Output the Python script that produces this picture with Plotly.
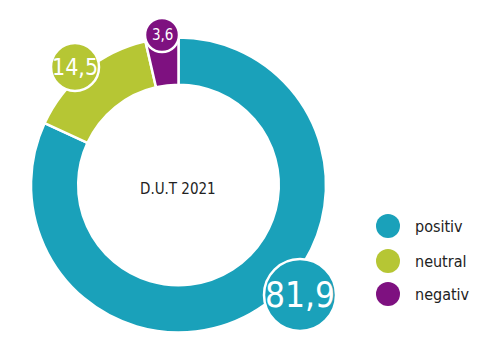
import plotly.graph_objects as go

W, H = 497, 361

# Data
categories = ["positiv", "neutral", "negativ"]
values = [81.9, 14.5, 3.6]
center_title = "D.U.T 2021"

# Style
colors = ["#1AA1BA", "#B6C634", "#7E1180"]
label_pos = [(300, 295), (75, 67), (162, 35)]   # pixel centres of value bubbles
label_r = [36, 24, 17]
label_font = [35, 23, 15]
legend_x = 388
legend_y = [226, 261, 294]
legend_r = 12
FONT = "DejaVu Sans Condensed, Liberation Sans Narrow, Open Sans, sans-serif"

fig = go.Figure()

fig.add_trace(go.Pie(
    values=values, labels=categories,
    marker=dict(colors=colors, line=dict(color="white", width=2.5)),
    hole=0.68, sort=False, direction="clockwise", rotation=0,
    textinfo="none", showlegend=False,
    domain=dict(x=[31 / W, 326 / W], y=[1 - 333 / H, 1 - 37 / H]),
))

# invisible helper trace so the pixel axes exist
fig.add_trace(go.Scatter(x=[0, W], y=[0, H], mode="markers",
                         marker=dict(opacity=0), hoverinfo="skip", showlegend=False))

shapes, annotations = [], []
for v, c, (cx, cy), r, fs in zip(values, colors, label_pos, label_r, label_font):
    shapes.append(dict(type="circle", xref="x", yref="y", layer="above",
                       x0=cx - r, x1=cx + r, y0=cy - r, y1=cy + r,
                       fillcolor=c, line=dict(color="white", width=2.5)))
    annotations.append(dict(x=cx, y=cy, xref="x", yref="y", showarrow=False,
                            text=f"{v:.1f}".replace(".", ","),
                            font=dict(family=FONT, size=fs, color="white"),
                            xanchor="center", yanchor="middle"))

for cat, c, ly in zip(categories, colors, legend_y):
    shapes.append(dict(type="circle", xref="x", yref="y", layer="above",
                       x0=legend_x - legend_r, x1=legend_x + legend_r,
                       y0=ly - legend_r, y1=ly + legend_r,
                       fillcolor=c, line=dict(width=0)))
    annotations.append(dict(x=legend_x + 25, y=ly, xref="x", yref="y", showarrow=False,
                            text=cat, font=dict(family=FONT, size=16, color="#222"),
                            xanchor="left", yanchor="middle"))

annotations.append(dict(x=178, y=189, xref="x", yref="y", showarrow=False,
                        text=center_title, font=dict(family=FONT, size=15, color="#222"),
                        xanchor="center", yanchor="middle"))

fig.update_layout(
    width=W, height=H, margin=dict(l=0, r=0, t=0, b=0),
    paper_bgcolor="white", plot_bgcolor="rgba(0,0,0,0)",
    xaxis=dict(range=[0, W], visible=False, fixedrange=True),
    yaxis=dict(range=[H, 0], visible=False, fixedrange=True),
    shapes=shapes, annotations=annotations, showlegend=False,
)

fig.write_html("out.html")
